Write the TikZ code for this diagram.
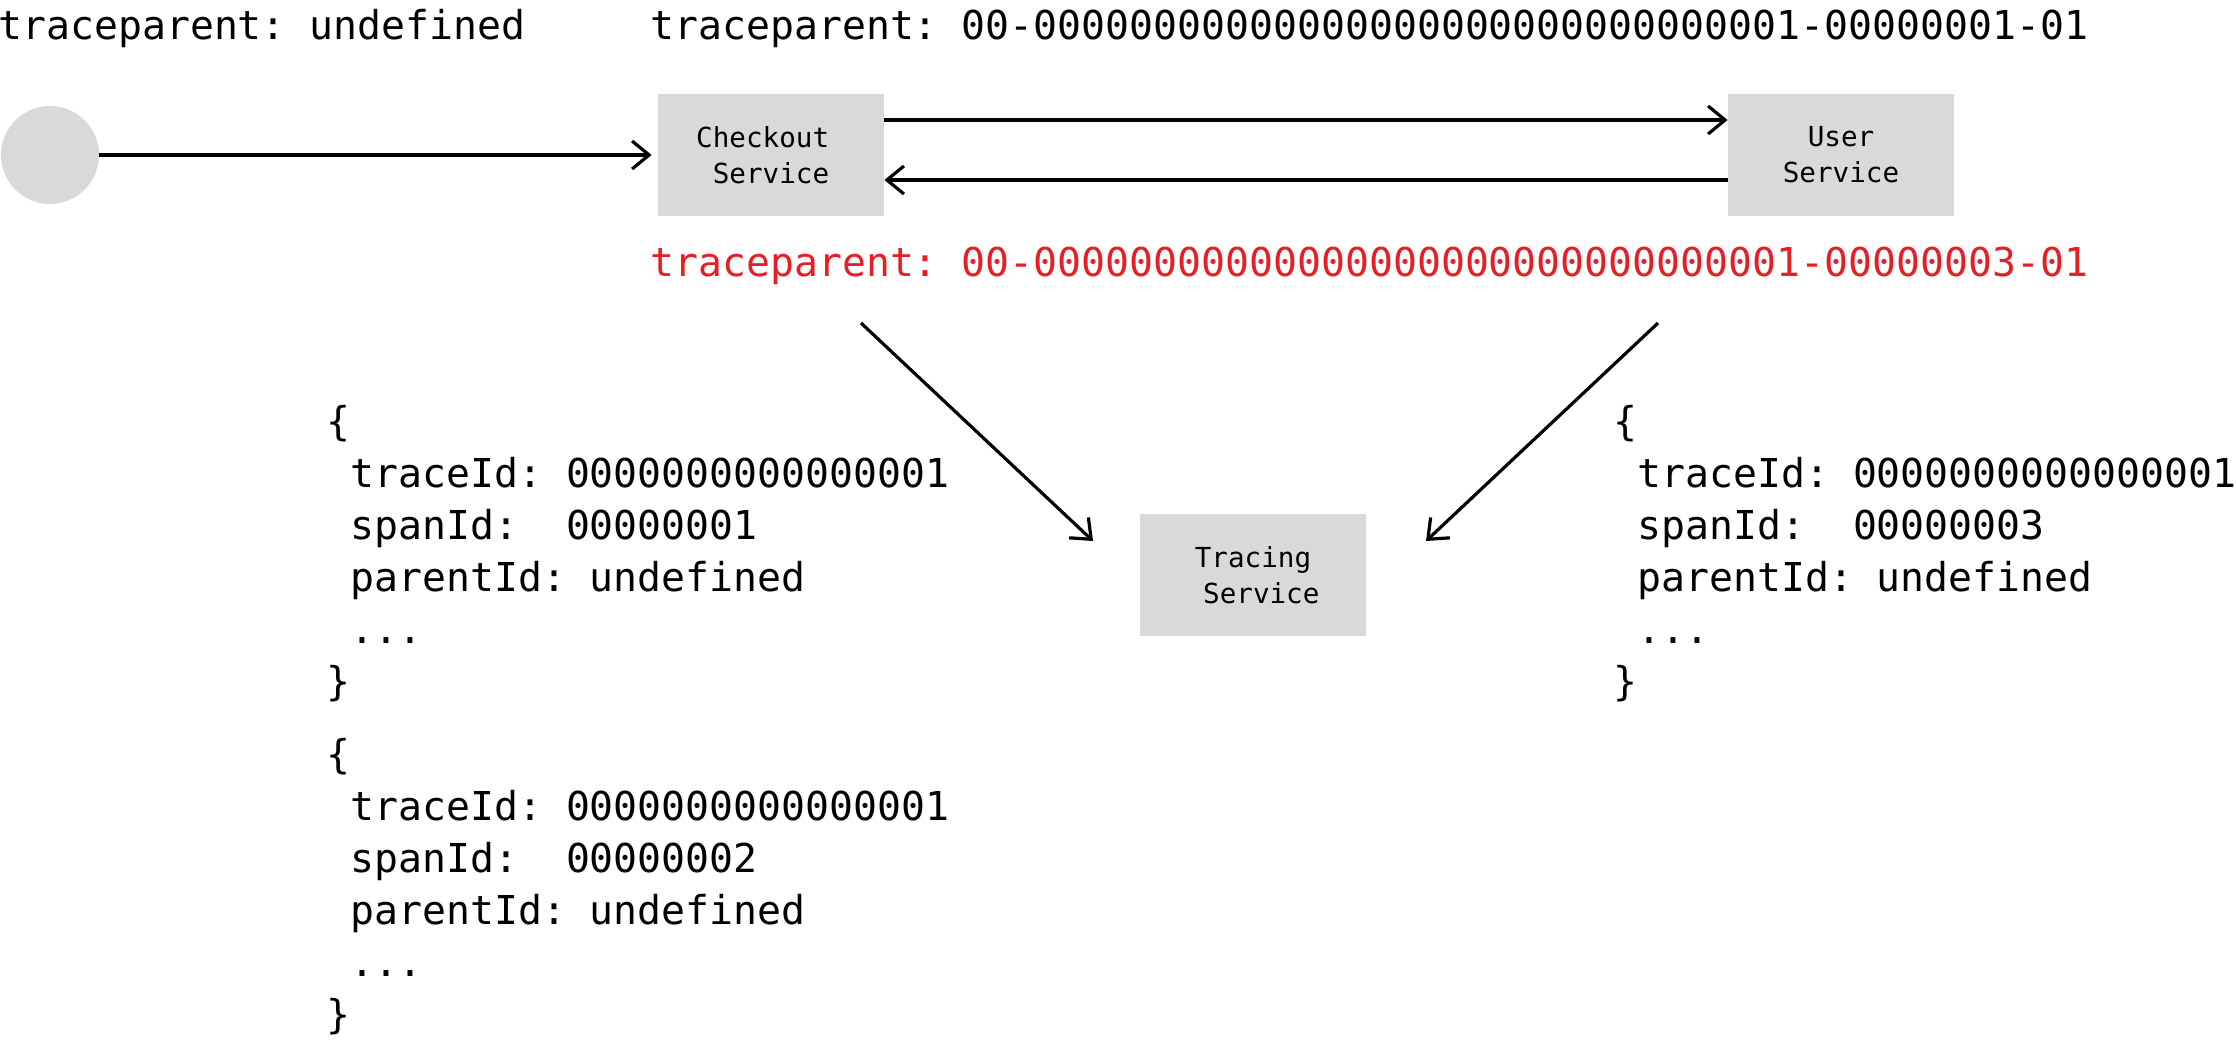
\documentclass[tikz,border=0pt]{standalone}
\usepackage{fontspec}
\setmonofont{DejaVu Sans Mono}
\usetikzlibrary{positioning,arrows.meta}
\definecolor{boxgray}{HTML}{D9D9D9}
\definecolor{hdrred}{HTML}{E81E25}
\newcommand{\jsind}{\hphantom{0}}

\begin{document}
\begin{tikzpicture}[
  x=0.5pt, y=-0.5pt,
  service/.style={rectangle, fill=boxgray, minimum width=113pt, minimum height=61pt, inner sep=0pt, align=center, font=\ttfamily\fontsize{13.8pt}{18pt}\selectfont},
  header/.style={anchor=base west, inner sep=0pt, font=\ttfamily\fontsize{19.9pt}{24pt}\selectfont},
  json/.style={anchor=base west, inner sep=0pt, align=left, font=\ttfamily\fontsize{19.9pt}{26pt}\selectfont},
  call/.style={-{Straight Barb[length=8.5pt,width=14pt]}, line width=1.6pt},
]
\useasboundingbox (0,0) rectangle (2236,1042);

% services
\node[circle, fill=boxgray, minimum size=49pt, inner sep=0pt] (client) at (50,155) {};
\node[service] (checkout) at (771,155) {Checkout\jsind\\\jsind Service\jsind};
\node[service] (user) at (1841,155) {User\\Service};
\node[service] (tracing) at (1253,575) {Tracing\\\jsind Service};

% headers
\node[header] (hdrin) at (-2,40) {traceparent: undefined};
\node[header] (hdrout) at (650,40) {traceparent: 00-00000000000000000000000000000001-00000001-01};
\node[header, text=hdrred] (hdrback) at (650,277) {traceparent: 00-00000000000000000000000000000001-00000003-01};

% spans (base = last line)
\node[json] (span1) at (326,695) {\{\\\jsind traceId: 0000000000000001\\\jsind spanId:~ 00000001\\\jsind parentId: undefined\\\jsind ...\\\}};
\node[json] (span2) at (326,1028) {\{\\\jsind traceId: 0000000000000001\\\jsind spanId:~ 00000002\\\jsind parentId: undefined\\\jsind ...\\\}};
\node[json] (span3) at (1613,695) {\{\\\jsind traceId: 0000000000000001\\\jsind spanId:~ 00000003\\\jsind parentId: undefined\\\jsind ...\\\}};

\coordinate (outtap) at (861,323);
\coordinate (backtap) at (1658,323);
\coordinate (tracein1) at (1093,541);
\coordinate (tracein2) at (1426,541);

\draw[call, shorten >=3pt] (client) -- (checkout);
\draw[call] ([yshift=17.5pt]checkout.east) -- ([yshift=17.5pt]user.west);
\draw[call] ([yshift=-12.5pt]user.west) -- ([yshift=-12.5pt]checkout.east);
\draw[call] (outtap) -- (tracein1);
\draw[call] (backtap) -- (tracein2);
\end{tikzpicture}
\end{document}
